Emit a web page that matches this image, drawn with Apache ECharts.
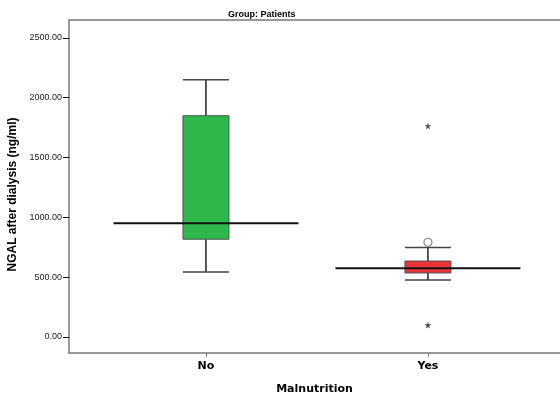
<!DOCTYPE html>
<html>
<head>
<meta charset="utf-8">
<script src="https://cdn.jsdelivr.net/npm/echarts@6/dist/echarts.min.js"></script>
<style>
  html, body { margin: 0; padding: 0; background: #fff; }
  #chart { width: 560px; height: 399px; }
</style>
</head>
<body>
<div id="chart"></div>
<script>
// group data
var categories = ["No", "Yes"];
var lowerWhisker = [543, 477];
var quartile1 = [817, 535];
var medians = [951, 574];
var quartile3 = [1850, 635];
var upperWhisker = [2150, 747];
// outliers: [category index, value]
var mildOutliers = [[1, 792]];
var extremeOutliers = [[1, 1764], [1, 100]];
var yTicks = [0, 500, 1000, 1500, 2000, 2500];

var boxColors = ["#2eb84b", "#e8343a"];
var BOX_WIDTH = 46;
var MEDIAN_WIDTH = 185;
var STAR = "path://M50,0 L61,35 L98,35 L68,57 L79,91 L50,70 L21,91 L32,57 L2,35 L39,35 Z";

var boxData = categories.map(function (c, i) {
	return [i, lowerWhisker[i], quartile1[i], medians[i], quartile3[i], upperWhisker[i]];
});

/**
 * 상자 하나를 그립니다.
 */
function renderBox(params, api) {
	var x = api.value(0);
	var pMin = api.coord([x, api.value(1)]);
	var pQ1 = api.coord([x, api.value(2)]);
	var pMed = api.coord([x, api.value(3)]);
	var pQ3 = api.coord([x, api.value(4)]);
	var pMax = api.coord([x, api.value(5)]);
	var cx = pMed[0];
	var half = BOX_WIDTH / 2;
	var mHalf = MEDIAN_WIDTH / 2;
	var lineStyle = { stroke: "#222", lineWidth: 1.5 };
	return {
		type: "group",
		children: [
			{ type: "line", shape: { x1: cx, y1: pMax[1], x2: cx, y2: pQ3[1] }, style: lineStyle },
			{ type: "line", shape: { x1: cx, y1: pQ1[1], x2: cx, y2: pMin[1] }, style: lineStyle },
			{ type: "line", shape: { x1: cx - half, y1: pMax[1], x2: cx + half, y2: pMax[1] }, style: { stroke: "#444", lineWidth: 1.5 } },
			{ type: "line", shape: { x1: cx - half, y1: pMin[1], x2: cx + half, y2: pMin[1] }, style: { stroke: "#444", lineWidth: 1.5 } },
			{
				type: "rect",
				shape: { x: cx - half, y: pQ3[1], width: BOX_WIDTH, height: pQ1[1] - pQ3[1] },
				style: { fill: boxColors[params.dataIndex], stroke: "#555", lineWidth: 1 }
			},
			{ type: "line", shape: { x1: cx - mHalf, y1: pMed[1], x2: cx + mHalf, y2: pMed[1] }, style: { stroke: "#111", lineWidth: 2 } }
		]
	};
}

var voChart = echarts.init(document.getElementById("chart"), null, { renderer: "canvas" });

var voOption = {
	animation: false,
	backgroundColor: "#fff",
	title: {
		text: "Group: Patients",
		left: 223,
		top: 5,
		textStyle: { fontFamily: "Liberation Sans", fontSize: 9, fontWeight: "bold", color: "#000" }
	},
	grid: { left: 69, right: 0, top: 20, bottom: 46, containLabel: false, outerBoundsMode: "none" },
	xAxis: [{
		type: "value",
		min: -0.617,
		max: 1.595,
		name: "Malnutrition",
		nameLocation: "middle",
		nameGap: 31,
		nameTextStyle: { fontFamily: "DejaVu Sans", fontSize: 11, fontWeight: "bold", color: "#000" },
		splitLine: { show: false },
		axisLine: { onZero: false, lineStyle: { color: "#777", width: 1.5 } },
		axisTick: { show: true, length: 4, lineStyle: { color: "#777" }, customValues: [0, 1] },
		axisLabel: {
			customValues: [0, 1],
			margin: 8,
			fontFamily: "DejaVu Sans", fontSize: 11, fontWeight: "bold", color: "#000",
			formatter: function (v) { return categories[Math.round(v)]; }
		}
	}, {
		type: "value",
		position: "top",
		min: -0.617,
		max: 1.595,
		axisLine: { show: true, onZero: false, lineStyle: { color: "#777", width: 1.5 } },
		axisTick: { show: false },
		axisLabel: { show: false },
		splitLine: { show: false }
	}],
	yAxis: {
		type: "value",
		min: -134,
		max: 2650,
		name: "NGAL after dialysis (ng/ml)",
		nameLocation: "middle",
		nameGap: 42,
		nameTextStyle: { fontFamily: "Liberation Sans", fontSize: 12, fontWeight: "bold", color: "#000", padding: [0, 0, 0, -16] },
		splitLine: { show: false },
		axisLine: { show: true, onZero: false, lineStyle: { color: "#777", width: 1.5 } },
		axisTick: { show: true, length: 6, lineStyle: { color: "#111" }, customValues: yTicks },
		axisLabel: {
			customValues: yTicks,
			margin: 7,
			fontFamily: "Liberation Sans", fontSize: 9, color: "#222",
			formatter: function (v) { return v.toFixed(2); }
		}
	},
	series: [{
		type: "custom",
		renderItem: renderBox,
		data: boxData,
		encode: { x: 0, y: [1, 2, 3, 4, 5] },
		z: 2
	}, {
		type: "scatter",
		data: mildOutliers,
		symbol: "circle",
		symbolSize: 8,
		itemStyle: { color: "#fff", borderColor: "#666", borderWidth: 1.2 },
		z: 3
	}, {
		type: "scatter",
		data: extremeOutliers,
		symbol: STAR,
		symbolSize: 7,
		itemStyle: { color: "#222" },
		z: 3
	}]
};

voChart.setOption(voOption);

window.addEventListener("resize", function () {
	voChart.resize();
});
</script>
</body>
</html>
